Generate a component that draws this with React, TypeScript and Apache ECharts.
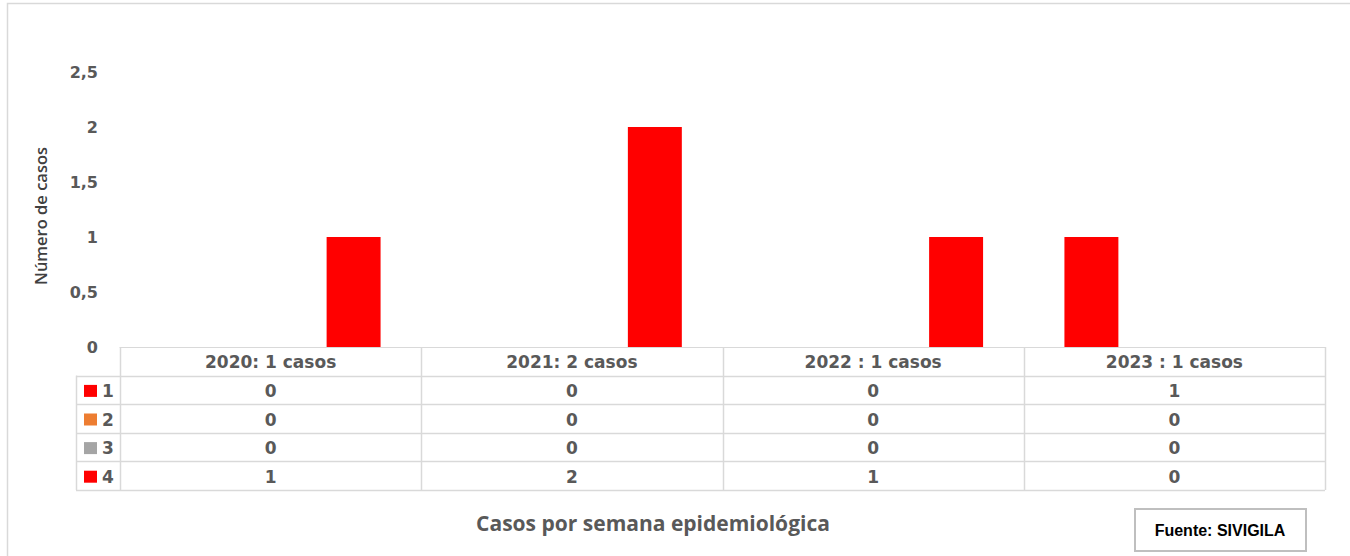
import React, { useEffect, useRef } from "react";
import * as echarts from "echarts";

const categories = ["2020: 1 casos", "2021: 2 casos", "2022 : 1 casos", "2023 : 1 casos"];
const seriesNames = ["1", "2", "3", "4"];
const seriesColors = ["#ff0000", "#ed7d31", "#a5a5a5", "#ff0000"];
const serie1 = [0, 0, 0, 1];
const serie2 = [0, 0, 0, 0];
const serie3 = [0, 0, 0, 0];
const serie4 = [1, 2, 1, 0];
const seriesData = [serie1, serie2, serie3, serie4];
const yTicks = [0, 0.5, 1, 1.5, 2, 2.5];

const GRID_LEFT = 120;
const GRID_RIGHT = 25;
const GRID_TOP = 72;
const GRID_BOTTOM = 209;
const LINE = "#d9d9d9";
const TXT = "#595959";
const TABLE_FONT = "DejaVu Sans";

export default function App() {
  const ref = useRef<HTMLDivElement>(null);
  useEffect(() => {
    document.body.style.margin = "0";
    const chart = echarts.init(ref.current!, null, { renderer: "svg" });
    chart.setOption({
      animation: false,
      backgroundColor: "#ffffff",
      grid: { left: GRID_LEFT, right: GRID_RIGHT, top: GRID_TOP, bottom: GRID_BOTTOM },
      xAxis: {
        type: "category",
        data: categories,
        axisLine: { show: true, lineStyle: { color: LINE, width: 1 } },
        axisTick: { show: false },
        axisLabel: { show: false },
        splitLine: { show: false },
      },
      yAxis: {
        type: "value",
        min: yTicks[0],
        max: yTicks[yTicks.length - 1],
        interval: 0.5,
        axisLine: { show: false },
        axisTick: { show: false },
        splitLine: { show: false },
        axisLabel: {
          margin: 22,
          color: TXT,
          fontFamily: TABLE_FONT,
          fontWeight: "bold",
          fontSize: 16,
          formatter: (v: number) => String(v).replace(".", ","),
        },
      },
      series: seriesData.map((d, i) => ({
        type: "bar",
        name: seriesNames[i],
        data: d,
        barCategoryGap: "27%",
        barGap: "2.5%",
        itemStyle: { color: seriesColors[i] },
      })),
    });

    const x0 = chart.convertToPixel({ xAxisIndex: 0 }, 0) as number;
    const x1 = chart.convertToPixel({ xAxisIndex: 0 }, 1) as number;
    const band = x1 - x0;
    const yTop = chart.convertToPixel({ yAxisIndex: 0 }, 0) as number;
    const rowH = 28.6;
    const nRows = seriesNames.length + 1;
    const tableLeft = x0 - band / 2;
    const tableRight = tableLeft + band * categories.length;
    const legendLeft = 76;
    const yBottom = yTop + rowH * nRows;
    const F = `bold 17px "${TABLE_FONT}"`;
    const els: any[] = [];
    for (let r = 1; r <= nRows; r++) {
      const y = Math.round(yTop + rowH * r) + 0.5;
      els.push({ type: "line", shape: { x1: legendLeft, y1: y, x2: tableRight, y2: y }, style: { stroke: LINE, lineWidth: 1.5 }, silent: true });
    }
    for (let c = 0; c <= categories.length; c++) {
      const x = Math.round(tableLeft + band * c) + 0.5;
      els.push({ type: "line", shape: { x1: x, y1: yTop, x2: x, y2: yBottom }, style: { stroke: LINE, lineWidth: 1.5 }, silent: true });
    }
    els.push({ type: "line", shape: { x1: legendLeft + 0.5, y1: yTop + rowH, x2: legendLeft + 0.5, y2: yBottom }, style: { stroke: LINE, lineWidth: 1.5 }, silent: true });
    categories.forEach((c, i) => {
      const cx = chart.convertToPixel({ xAxisIndex: 0 }, i) as number;
      els.push({ type: "text", x: cx, y: yTop + rowH / 2 + 1, style: { text: c, fill: TXT, font: F, align: "center", verticalAlign: "middle" }, silent: true });
    });
    seriesData.forEach((d, r) => {
      const cy = yTop + rowH * (r + 1.5) + 1;
      els.push({ type: "rect", shape: { x: 84, y: cy - 6, width: 13, height: 12 }, style: { fill: seriesColors[r] }, silent: true });
      els.push({ type: "text", x: 102, y: cy, style: { text: seriesNames[r], fill: TXT, font: F, align: "left", verticalAlign: "middle" }, silent: true });
      d.forEach((v, i) => {
        const cx = chart.convertToPixel({ xAxisIndex: 0 }, i) as number;
        els.push({ type: "text", x: cx, y: cy, style: { text: String(v), fill: TXT, font: F, align: "center", verticalAlign: "middle" }, silent: true });
      });
    });
    // y axis title
    els.push({ type: "text", x: 40, y: 216, rotation: Math.PI / 2, style: { text: "Número de casos", fill: "#404040", font: '600 16.5px "Open Sans"', align: "center", verticalAlign: "middle" }, silent: true });
    els.push({ type: "text", x: 653, y: 523, style: { text: "Casos por semana epidemiológica", fill: TXT, font: 'bold 21px "Open Sans"', align: "center", verticalAlign: "middle" }, silent: true });
    els.push({ type: "rect", shape: { x: 1135, y: 509, width: 171, height: 42 }, style: { fill: "#ffffff", stroke: "#bfbfbf", lineWidth: 2 }, silent: true });
    els.push({ type: "text", x: 1220, y: 530, style: { text: "Fuente: SIVIGILA", fill: "#000000", font: 'bold 16px "Liberation Sans"', align: "center", verticalAlign: "middle" }, silent: true });
    els.push({ type: "polyline", shape: { points: [[7.5, 556], [7.5, 3.5], [1350, 3.5]] }, style: { stroke: "#d9d9d9", lineWidth: 1.5, fill: "none" }, silent: true });
    chart.setOption({ graphic: { elements: els } });
    return () => chart.dispose();
  }, []);
  return <div ref={ref} style={{ position: "absolute", left: 0, top: 0, width: 1350, height: 556 }} />;
}
